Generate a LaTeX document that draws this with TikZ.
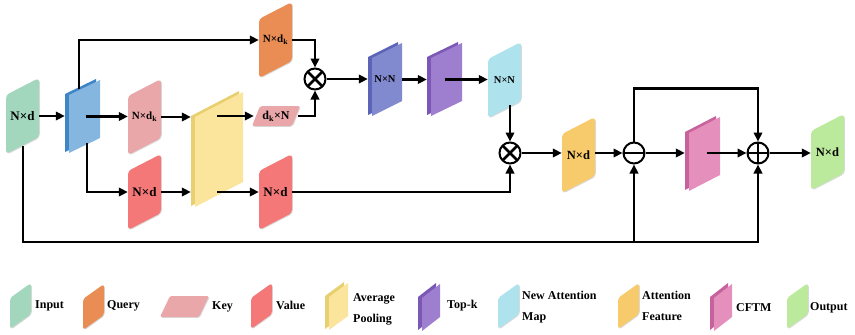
\documentclass[tikz,border=0pt]{standalone}
\usepackage{fontspec}
\setmainfont{Liberation Serif}
\usetikzlibrary{arrows.meta,calc,shadows}

\definecolor{inputc}{HTML}{A2D7BE}
\definecolor{blueF}{HTML}{84B6E0}
\definecolor{blueS}{HTML}{3F85C5}
\definecolor{keyc}{HTML}{E9A7A9}
\definecolor{valc}{HTML}{F47878}
\definecolor{yelF}{HTML}{FBE59C}
\definecolor{yelS}{HTML}{E8CF70}
\definecolor{qryc}{HTML}{E98D55}
\definecolor{nnF}{HTML}{8189CF}
\definecolor{nnS}{HTML}{5C64B8}
\definecolor{topF}{HTML}{9E7ECF}
\definecolor{topS}{HTML}{7B57B6}
\definecolor{namc}{HTML}{AEE3EE}
\definecolor{attc}{HTML}{F7CB6C}
\definecolor{cftF}{HTML}{E48FBC}
\definecolor{cftS}{HTML}{C7639C}
\definecolor{outc}{HTML}{BCEA9C}

\newcommand\fsz[1]{\fontsize{#1}{#1}\selectfont}

\tikzset{
  conn/.style={line width=2.1pt, -{Triangle[length=9pt,width=8.5pt]}},
  lbl/.style={font=\bfseries\fontsize{12}{21}\selectfont, anchor=west, align=left, inner sep=0pt},
  txt/.style={font=\bfseries, inner sep=0pt},
  softshadow/.style={drop shadow={shadow xshift=0.8pt, shadow yshift=-0.8pt, opacity=0.15, fill=black}},
  op/.style={circle, draw, line width=2pt, minimum size=21pt, inner sep=0pt, fill=white},
  otimes/.style={op, path picture={\draw[line width=2.6pt] (path picture bounding box.center)
      +(-7.5,-7.5) -- +(7.5,7.5) +(-7.5,7.5) -- +(7.5,-7.5);}},
  ominus/.style={op, path picture={\draw[line width=1.8pt] (path picture bounding box.center)
      +(-11,0) -- +(11,0);}},
  oplus/.style={op, path picture={\draw[line width=1.8pt] (path picture bounding box.center)
      +(-11,0) -- +(11,0) +(0,-11) -- +(0,11);}},
}

% flat rounded panel: name, left x, top-right y, colour, text
\newcommand\flatpanel[5]{%
  \fill[#4, rounded corners=3.5, softshadow] (#2,#3+17) -- (#2+33,#3) -- (#2+33,#3+59) -- (#2,#3+76) -- cycle;
  \node[txt, minimum width=33, minimum height=76] (#1) at (#2+16.5,#3+38) {#5};}

% panel with visible thickness: name, left x, top-right y, width, shear, height, front, side, text
\newcommand\solidpanel[9]{%
  \fill[#8] (#2-4,#3+#5-1) -- (#2+#4-4,#3-1) -- (#2+#4-4,#3+#6-1) -- (#2-4,#3+#5+#6-1) -- cycle;
  \fill[#7] (#2,#3+#5) -- (#2+#4,#3) -- (#2+#4,#3+#6) -- (#2,#3+#5+#6) -- cycle;
  \node[txt, minimum width=#4+4, minimum height=#5+#6] (#1) at (#2+#4/2-2,#3+#5/2+#6/2) {#9};}

% small legend panels
\newcommand\legpanel[4]{%
  \fill[#4, rounded corners=3, softshadow] (#2,#3+15) -- (#2+21,#3) -- (#2+21,#3+31) -- (#2,#3+46) -- cycle;
  \coordinate (#1) at (#2+10.5,#3+23);}
\newcommand\legsolid[6]{%
  \fill[#6] (#2-4,#3+14-1) -- (#2+#4-4,#3-1) -- (#2+#4-4,#3+33-1) -- (#2-4,#3+47-1) -- cycle;
  \fill[#5] (#2,#3+14) -- (#2+#4,#3) -- (#2+#4,#3+33) -- (#2,#3+47) -- cycle;
  \coordinate (#1) at (#2+#4/2,#3+23);}

\begin{document}
\begin{tikzpicture}[x=1pt,y=-1pt]
\useasboundingbox (0,0) rectangle (855,335);

% ---- feature panels ----
\flatpanel{inp}{6}{78}{inputc}{\fsz{13}N×d}
\solidpanel{blu}{69}{80}{31}{15}{58}{blueF}{blueS}{}
\flatpanel{key}{128}{79}{keyc}{\fsz{11}N×d\textsubscript{k}}
\flatpanel{val}{128}{154}{valc}{\fsz{13}N×d}
\solidpanel{avg}{195}{92}{48}{25}{90}{yelF}{yelS}{}
\flatpanel{qry}{259}{2}{qryc}{\fsz{11}N×d\textsubscript{k}}
\fill[keyc, rounded corners=2, softshadow] (260,106) -- (300,106) -- (292,126) -- (252,126) -- cycle;
\node[txt, minimum width=44, minimum height=20] (skey) at (276,116) {\fsz{12}d\textsubscript{k}×N};
\flatpanel{val2}{259}{154}{valc}{\fsz{13}N×d}
\solidpanel{nn}{372}{43}{30}{15}{58}{nnF}{nnS}{\fsz{10.5}N×N}
\solidpanel{topk}{431}{43}{31}{15}{58}{topF}{topS}{}
\flatpanel{nam}{488}{42}{namc}{\fsz{10.5}N×N}
\flatpanel{att}{562}{117}{attc}{\fsz{12.5}N×d}
\solidpanel{cft}{689}{117}{31}{16}{58}{cftF}{cftS}{}
\flatpanel{out}{811}{114}{outc}{\fsz{12.5}N×d}

% ---- operators ----
\node[otimes] (m1) at (315,79) {};
\node[otimes] (m2) at (510,153) {};
\node[ominus] (sub) at (634,153) {};
\node[oplus] (add) at (758,153) {};

% ---- connectors ----
\coordinate (bq) at (79,89);
\coordinate (bv) at (87,143);
\coordinate (ib) at (23,146);
\coordinate (rail) at (0,242);
\draw[conn] (inp.east) -- (inp.east -| blu.west);
\draw[conn] (bq) |- (qry.west);
\draw[conn] ([xshift=3pt]blu.center) -- (blu.center -| key.west);
\draw[conn] (bv) |- (val.west);
\draw[conn] (key.east) -- (key.east -| avg.west);
\draw[conn] (val.east) -- (val.east -| avg.west);
\draw[conn] (avg.center |- skey.west) -- (skey.west);
\draw[conn] (avg.center |- val2.west) -- (val2.west);
\draw[conn] (qry.east) -| (m1.north);
\draw[conn] (skey.east) -| (m1.south);
\draw[conn] (m1.east) -- (m1.east -| nn.west);
\draw[conn] (nn.east) -- (nn.east -| topk.west);
\draw[conn] (topk.center) -- (topk.center -| nam.west);
\draw[conn] ([yshift=13pt]m2.north |- nam.south) -- (m2.north);
\draw[conn] (val2.east) -| (m2.south);
\draw[conn] (m2.east) -- (m2.east -| att.west);
\draw[conn] (sub.west -| att.east) -- (sub.west);
\draw[conn] (sub.east) -- (sub.east -| cft.west);
\draw[conn] ([xshift=4pt]cft.center |- add.west) -- (add.west);
\draw[conn] (add.east) -- (add.east -| out.west);
\draw[conn] (sub.north) -- ++(0,-53) -| (add.north);
\draw[conn] (ib) |- (rail -| add.south) -- (add.south);
\draw[conn] (rail -| sub.south) -- (sub.south);

% ---- legend ----
\legpanel{li}{10}{283}{inputc}
\legpanel{lq}{83}{284}{qryc}
\fill[keyc, rounded corners=1.5, softshadow] (170,296) -- (209,296) -- (199,317) -- (160,317) -- cycle;
\coordinate (lk) at (185,306);
\legpanel{lv}{251}{283}{valc}
\legsolid{la}{329}{283}{19}{yelF}{yelS}
\legsolid{lt}{422}{284}{18}{topF}{topS}
\legpanel{ln}{498}{283}{namc}
\legpanel{lf}{618}{283}{attc}
\legsolid{lc}{714}{284}{18}{cftF}{cftS}
\legpanel{lo}{787}{283}{outc}

\node[lbl] (ti) at (35,306) {Input};
\node[lbl] (tq) at (107,306) {Query};
\node[lbl] (tk) at (212,307) {Key};
\node[lbl] (tv) at (276,305) {Value};
\node[lbl] (ta) at (353,309.5) {Average\\Pooling};
\node[lbl] (tt) at (447,306) {Top-k};
\node[lbl] (tn) at (522,307.5) {New Attention\\Map};
\node[lbl] (tf) at (642,306) {Attention\\Feature};
\node[lbl] (tc) at (736,308) {CFTM};
\node[lbl] (to) at (810,308) {Output};
\end{tikzpicture}
\end{document}
